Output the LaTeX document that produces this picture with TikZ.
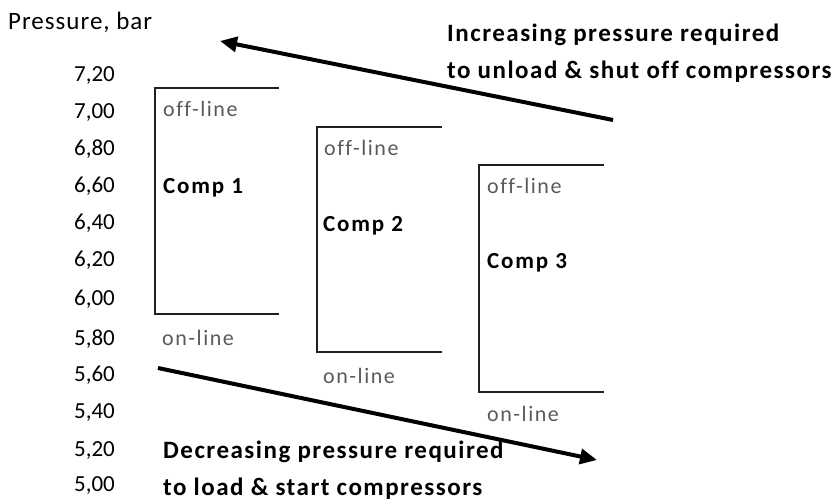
\documentclass[tikz,border=0pt]{standalone}
\usepackage{fontspec}
\setmainfont[Ligatures=NoCommon]{Carlito}
\usetikzlibrary{arrows.meta}
\definecolor{stategray}{HTML}{5A5A5A}
\tikzset{
  num/.style={anchor=base east, inner sep=0pt, font=\fontsize{23}{27}\selectfont},
  axlabel/.style={anchor=base west, inner sep=0pt, font=\fontsize{25}{29}\selectfont\addfontfeatures{LetterSpace=4}},
  statelab/.style={anchor=base west, inner sep=0pt, text=stategray, font=\fontsize{22}{26}\selectfont\addfontfeatures{LetterSpace=7}},
  complab/.style={anchor=base west, inner sep=0pt, font=\fontsize{23}{27}\selectfont\bfseries\addfontfeatures{LetterSpace=8}},
  note/.style={anchor=base west, inner sep=0pt, font=\fontsize{25}{29}\selectfont\bfseries\addfontfeatures{LetterSpace=6}},
  bracket/.style={draw=black!88, line width=2pt},
  bigarrow/.style={draw=black, line width=4pt, -{Triangle[length=17pt,width=15pt]}}
}
\begin{document}
\begin{tikzpicture}[x=1pt,y=-1pt]
\useasboundingbox (0,0) rectangle (840,502);
% axis title and values
\node[axlabel] (ptitle) at (8,30) {Pressure, bar};
\node[num] (v720) at (115,82) {7,20};
\node[num] (v700) at (115,119) {7,00};
\node[num] (v680) at (115,156) {6,80};
\node[num] (v660) at (115,193) {6,60};
\node[num] (v640) at (115,230) {6,40};
\node[num] (v620) at (115,267) {6,20};
\node[num] (v600) at (115,306) {6,00};
\node[num] (v580) at (115,345) {5,80};
\node[num] (v560) at (115,381) {5,60};
\node[num] (v540) at (115,418) {5,40};
\node[num] (v520) at (115,456) {5,20};
\node[num] (v500) at (115,491) {5,00};
% compressor brackets
\draw[bracket] (279,88) -- (155,88) -- (155,314) -- (279,314);
\draw[bracket] (442,127) -- (317,127) -- (317,352) -- (442,352);
\draw[bracket] (604,165) -- (479,165) -- (479,392) -- (604,392);
% labels
\node[statelab] (off1) at (163,117) {off-line};
\node[complab] (c1) at (163,194) {Comp 1};
\node[statelab] (on1) at (162,345) {on-line};
\node[statelab] (off2) at (324,156) {off-line};
\node[complab] (c2) at (323,232) {Comp 2};
\node[statelab] (on2) at (323,383) {on-line};
\node[statelab] (off3) at (487,194) {off-line};
\node[complab] (c3) at (487,269) {Comp 3};
\node[statelab] (on3) at (487,421) {on-line};
% notes
\node[note] (inc1) at (447,42) {Increasing pressure required};
\node[note] (inc2) at (447,79) {to unload \& shut off compressors};
\node[note] (dec1) at (163,458) {Decreasing pressure required};
\node[note] (dec2) at (163,495) {to load \& start compressors};
% arrows
\coordinate (upTail) at (613,120);
\coordinate (upTip) at (220,41);
\coordinate (dnTail) at (158,368);
\coordinate (dnTip) at (597,460);
\draw[bigarrow] (upTail) -- (upTip);
\draw[bigarrow] (dnTail) -- (dnTip);
\end{tikzpicture}
\end{document}
